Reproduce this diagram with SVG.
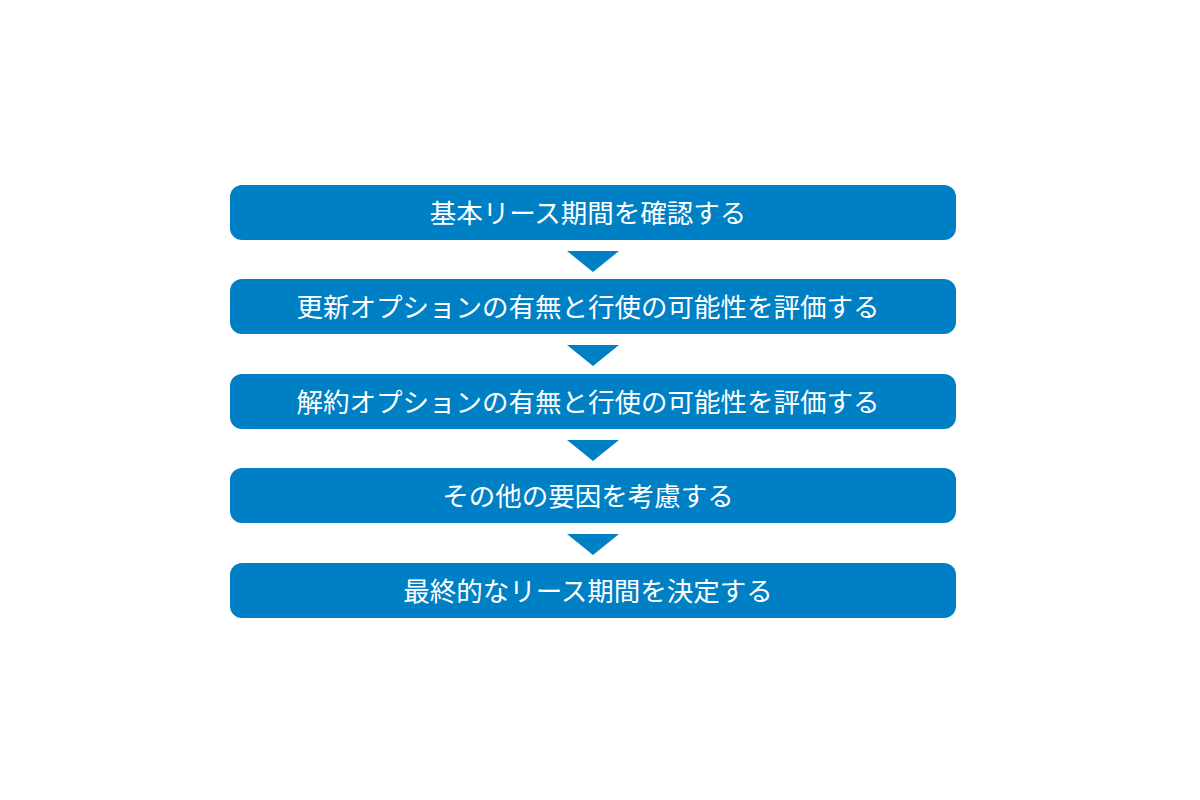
<svg xmlns="http://www.w3.org/2000/svg" width="1200" height="800" viewBox="0 0 1200 800">
<style>
.box{fill:#0080c4}
.lbl{fill:#fff;font-family:"Noto Sans CJK JP","Noto Sans",sans-serif;font-size:26.5px;text-anchor:middle;dominant-baseline:central}
.arr{fill:#0080c4}
</style>
<rect width="1200" height="800" fill="#fff"/>
<g id="n1"><rect class="box" x="230" y="185" width="726" height="55" rx="12"/><text class="lbl" x="588" y="211.5">基本リース期間を確認する</text></g>
<g id="n2"><rect class="box" x="230" y="279" width="726" height="55" rx="12"/><text class="lbl" x="588" y="305.5">更新オプションの有無と行使の可能性を評価する</text></g>
<g id="n3"><rect class="box" x="230" y="374" width="726" height="55" rx="12"/><text class="lbl" x="588" y="400.5">解約オプションの有無と行使の可能性を評価する</text></g>
<g id="n4"><rect class="box" x="230" y="468" width="726" height="55" rx="12"/><text class="lbl" x="588" y="494.5">その他の要因を考慮する</text></g>
<g id="n5"><rect class="box" x="230" y="563" width="726" height="55" rx="12"/><text class="lbl" x="588" y="589.5">最終的なリース期間を決定する</text></g>
<g id="connectors">
<polygon class="arr" points="567,251 619,251 593,272"/>
<polygon class="arr" points="567,345 619,345 593,366"/>
<polygon class="arr" points="567,440 619,440 593,461"/>
<polygon class="arr" points="567,534 619,534 593,555"/>
</g>
</svg>
